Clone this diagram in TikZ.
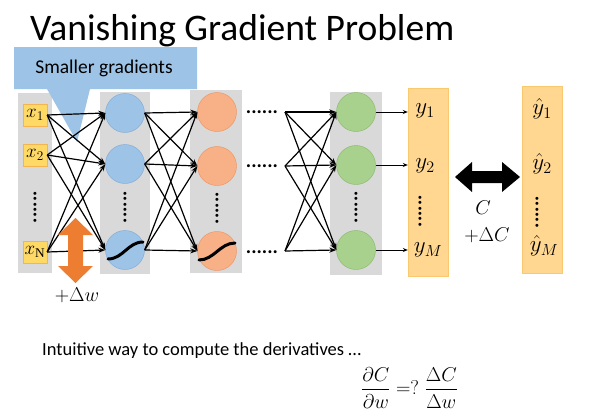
\RequirePackage{fix-cm}
\documentclass[tikz,border=0pt]{standalone}
\usepackage{fontspec}
\setmainfont{Carlito}
\newfontfamily\subserif{Liberation Serif}
\usepackage{amsmath}
\usepackage{xcolor}
\usetikzlibrary{positioning, arrows.meta, shapes}

\definecolor{laygray}{RGB}{217,217,217}
\definecolor{callblue}{RGB}{157,195,230}
\definecolor{blueedge}{RGB}{125,168,215}
\definecolor{redfill}{RGB}{248,176,134}
\definecolor{rededge}{RGB}{237,145,95}
\definecolor{greenfill}{RGB}{169,209,142}
\definecolor{greenedge}{RGB}{135,182,105}
\definecolor{inyellow}{RGB}{255,217,102}
\definecolor{inedge}{RGB}{244,180,80}
\definecolor{outyellow}{RGB}{255,215,145}
\definecolor{outedge}{RGB}{250,200,110}
\definecolor{warnorange}{RGB}{237,125,49}

\begin{document}
\begin{tikzpicture}[
    x=1pt, y=-1pt,
    column/.style={rectangle, fill=laygray, inner sep=0pt},
    outcolumn/.style={column, fill=outyellow, draw=outedge},
    inbox/.style={rectangle, draw=inedge, fill=inyellow, minimum width=24pt, minimum height=22pt, inner sep=0pt, font=\fontsize{19}{20}\selectfont},
    neuron/.style={circle, draw, minimum size=39pt, inner sep=0pt},
    blueneuron/.style={neuron, fill=callblue, draw=blueedge},
    redneuron/.style={neuron, fill=redfill, draw=rededge},
    greenneuron/.style={neuron, fill=greenfill, draw=greenedge},
    mathlabel/.style={font=\fontsize{20}{22}\selectfont, inner sep=1pt},
    outlabel/.style={mathlabel, font=\fontsize{23}{24}\selectfont},
    dots/.style={font=\fontsize{20}{22}\bfseries\selectfont, inner sep=0pt},
    vdots/.style={dots, rotate=90},
    edge/.style={-{Stealth[length=7pt,width=5pt]}, line width=1.2pt},
    outarrow/.style={-{Stealth[length=5pt,width=4pt]}, line width=0.8pt},
    sigmoid/.style={line width=3pt, line cap=round}
]
\useasboundingbox (0,0) rectangle (589,415);

% Title
\node[anchor=base west, inner sep=0pt, font=\fontsize{37.5}{40}\selectfont] (title) at (30,40) {Vanishing Gradient Problem};

% Layer columns
\node[column, minimum width=34pt, minimum height=180pt] (incol) at (35,183) {};
\node[column, minimum width=50pt, minimum height=182pt] (bcol) at (125,183) {};
\node[column, minimum width=52pt, minimum height=183pt] (rcol) at (216,181.5) {};
\node[column, minimum width=52pt, minimum height=183pt] (gcol) at (356,183.5) {};
\node[outcolumn, minimum width=40pt, minimum height=188pt] (ycol) at (428,182) {};
\node[outcolumn, minimum width=40pt, minimum height=187pt] (tcol) at (542,179.5) {};

% Callout
\fill[callblue] (14,47) -- (197,47) -- (197,89) -- (90,89) -- (77,142) -- (47,89) -- (14,89) -- cycle;
\node[font=\fontsize{19.5}{20}\selectfont] (callout) at (104,68) {Smaller gradients};

% Input layer
\node[inbox] (x1) at (35,115) {$x_1$};
\node[inbox] (x2) at (35,155) {$x_2$};
\node[inbox] (xN) at (35,252) {$x_{\text{\subserif N}}$};
\node[vdots] (xdots) at (35,207) {......};

% Hidden layers
\node[blueneuron] (b1) at (125,113) {};
\node[blueneuron] (b2) at (125,164) {};
\node[blueneuron] (b3) at (125,250) {};
\node[vdots] (bdots) at (125,207) {......};

\node[redneuron] (r1) at (217,112) {};
\node[redneuron] (r2) at (217,166) {};
\node[redneuron] (r3) at (217,251) {};
\node[vdots] (rdots) at (217,208) {......};

\node[dots] (d1) at (262,112) {......};
\node[dots] (d2) at (262,166) {......};
\node[dots] (d3) at (262,252) {......};
\coordinate (f1) at (285,112);
\coordinate (f2) at (285,166);
\coordinate (f3) at (285,251);

\node[greenneuron] (g1) at (356,112) {};
\node[greenneuron] (g2) at (356,165) {};
\node[greenneuron] (g3) at (356,250) {};
\node[vdots] (gdots) at (356,207) {......};

% Sigmoids
\draw[sigmoid] ([shift={(-17,9)}]b3.center) .. controls +(15,0) and +(-15,0) .. ([shift={(18,-8)}]b3.center);
\draw[sigmoid] ([shift={(-18,9)}]r3.center) .. controls +(15,0) and +(-15,0) .. ([shift={(18,-8)}]r3.center);

% Connections
\foreach \a in {x1,x2,xN}
  \foreach \b in {b1,b2,b3}
    \draw[edge] (\a.east) -- (\b.west);
\foreach \a in {b1,b2,b3}
  \foreach \b in {r1,r2,r3}
    \draw[edge] (\a.east) -- (\b.west);
\foreach \a in {f1,f2,f3}
  \foreach \b in {g1,g2,g3}
    \draw[edge] (\a) -- (\b.west);
\foreach \a in {g1,g2,g3}
  \draw[outarrow] (\a.east) -- (\a.east -| ycol.west);

% Outputs and targets
\node[outlabel] (y1) at (425,111) {$y_1$};
\node[outlabel] (y2) at (425,166) {$y_2$};
\node[outlabel] (yM) at (428,250) {$y_M$};
\node[vdots] (ydots) at (420,211) {......};
\node[outlabel] (t1) at (542,109) {$\hat{y}_1$};
\node[outlabel] (t2) at (542,164) {$\hat{y}_2$};
\node[outlabel] (tM) at (544,246) {$\hat{y}_M$};
\node[vdots] (tdots) at (537,212) {......};

% Cost arrow
\fill (455,177) -- (472,162) -- (472,171) -- (502,171) -- (502,162) -- (520,177)
  -- (502,192) -- (502,183) -- (472,183) -- (472,192) -- cycle;
\node[mathlabel] (cost) at (483,208) {$C$};
\node[mathlabel] (dcost) at (487,235) {$+\Delta C$};

% Weight change
\fill[warnorange] (75.5,218) -- (93,235) -- (83,235) -- (83,266) -- (93,266) -- (75.5,283)
  -- (58,266) -- (68,266) -- (68,235) -- (58,235) -- cycle;
\node[mathlabel] (dw) at (77,295) {$+\Delta w$};

% Bottom text
\node[anchor=base west, inner sep=0pt, font=\fontsize{18.5}{20}\selectfont] (intuit) at (42,355) {Intuitive way to compute the derivatives \ldots};
\node[mathlabel, anchor=west, inner sep=0pt] (formula) at (361,388) {$\dfrac{\partial C}{\partial w}\mathrel{=?}\dfrac{\Delta C}{\Delta w}$};

\end{tikzpicture}
\end{document}
